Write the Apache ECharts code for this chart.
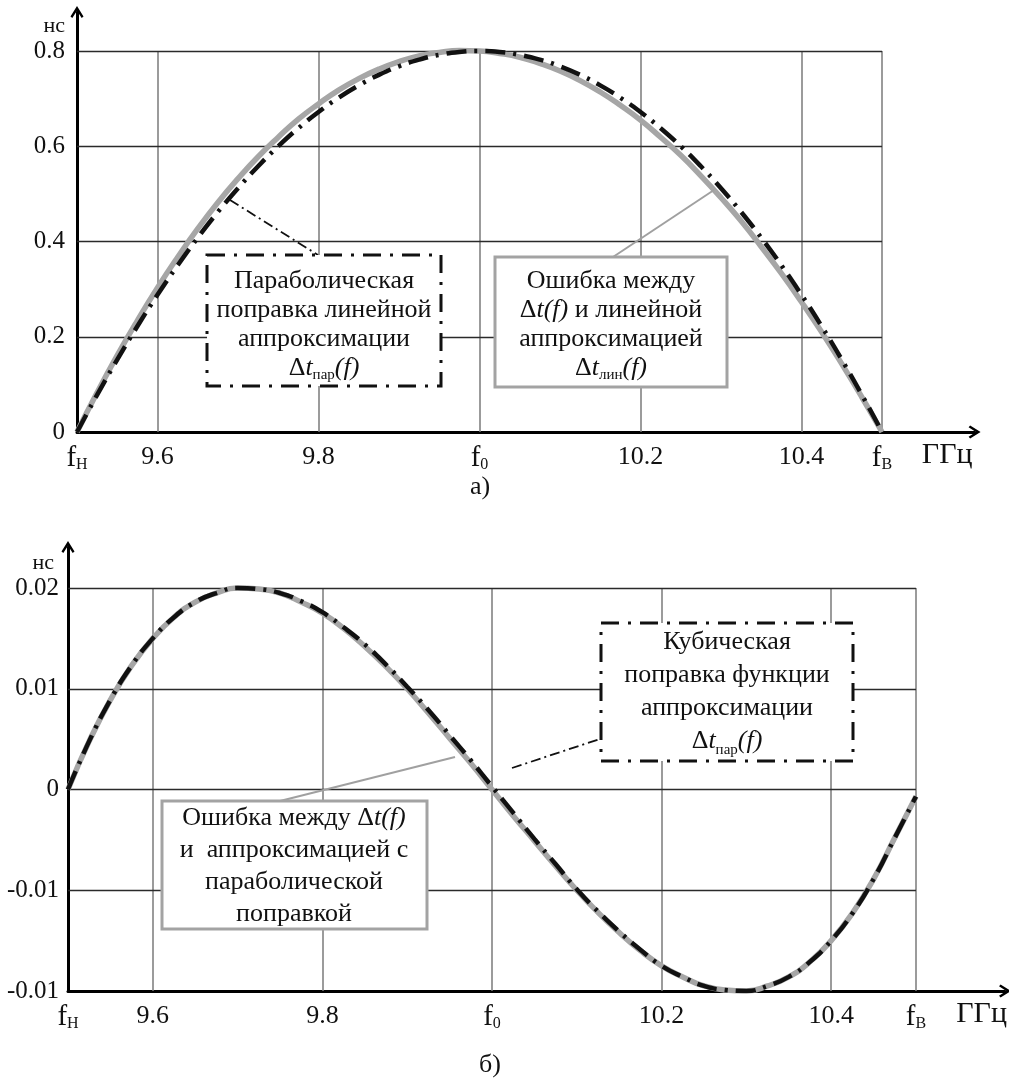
<!DOCTYPE html>
<html><head><meta charset="utf-8">
<script src="https://cdn.jsdelivr.net/npm/echarts@6/dist/echarts.min.js"></script>
<style>html,body{margin:0;padding:0;background:#fff}#c{width:1009px;height:1086px}</style>
</head><body><div id="c"></div>
<script>
// ---------- data ----------
const freq = [9.500, 9.525, 9.550, 9.575, 9.600, 9.625, 9.650, 9.675, 9.700, 9.725,
  9.750, 9.775, 9.800, 9.825, 9.850, 9.875, 9.900, 9.925, 9.950, 9.975,
  10.000, 10.025, 10.050, 10.075, 10.100, 10.125, 10.150, 10.175, 10.200, 10.225,
  10.250, 10.275, 10.300, 10.325, 10.350, 10.375, 10.400, 10.425, 10.450, 10.475, 10.500];

// (a) parabolic correction of the linear approximation, ns
const topParabolic = [0, 0.078, 0.152, 0.222, 0.288, 0.350, 0.408, 0.462, 0.512, 0.558,
  0.600, 0.638, 0.672, 0.702, 0.728, 0.750, 0.768, 0.782, 0.792, 0.798,
  0.800, 0.798, 0.792, 0.782, 0.768, 0.750, 0.728, 0.702, 0.672, 0.638,
  0.600, 0.558, 0.512, 0.462, 0.408, 0.350, 0.288, 0.222, 0.152, 0.078, 0];
// (a) error between Δt(f) and linear approximation, ns
const topError = [0, 0.083, 0.161, 0.234, 0.303, 0.367, 0.427, 0.482, 0.532, 0.578,
  0.619, 0.657, 0.689, 0.718, 0.742, 0.762, 0.778, 0.790, 0.797, 0.801,
  0.800, 0.795, 0.787, 0.774, 0.758, 0.738, 0.714, 0.686, 0.655, 0.619,
  0.581, 0.538, 0.492, 0.443, 0.389, 0.333, 0.273, 0.210, 0.143, 0.073, 0];

// (б) error after parabolic correction, ns
const botError = [0, 0.0048, 0.0089, 0.0123, 0.0150, 0.0171, 0.0186, 0.0195, 0.0200, 0.0199,
  0.0195, 0.0186, 0.0175, 0.0160, 0.0142, 0.0122, 0.0100, 0.0076, 0.0051, 0.0026,
  0, -0.0026, -0.0051, -0.0076, -0.0100, -0.0122, -0.0142, -0.0160, -0.0175, -0.0186,
  -0.0195, -0.0199, -0.0200, -0.0195, -0.0186, -0.0171, -0.0150, -0.0123, -0.0089, -0.0048, -0.0007];
// (б) cubic correction, ns
const botCubic = [0, 0.0048, 0.0089, 0.0123, 0.0150, 0.0171, 0.0186, 0.0195, 0.0200, 0.0199,
  0.0195, 0.0187, 0.0176, 0.0161, 0.0144, 0.0124, 0.0102, 0.0079, 0.0054, 0.0029,
  0.0003, -0.0023, -0.0049, -0.0074, -0.0099, -0.0121, -0.0141, -0.0159, -0.0175, -0.0186,
  -0.0195, -0.0199, -0.0200, -0.0195, -0.0186, -0.0171, -0.0150, -0.0123, -0.0089, -0.0048, -0.0007];

// tick labels
const xTickVals = [9.5, 9.6, 9.8, 10.0, 10.2, 10.4, 10.5];
const xTickTexts = ['{f|f}{s|Н}', '{n|9.6}', '{n|9.8}', '{f|f}{s|0}', '{n|10.2}', '{n|10.4}', '{f|f}{s|В}'];
const xUnit = 'ГГц';
const yUnit = 'нс';
const yTopVals = [0, 0.2, 0.4, 0.6, 0.8];
const yTopTexts = ['0', '0.2', '0.4', '0.6', '0.8'];
const yBotVals = [-0.02, -0.01, 0, 0.01, 0.02];
const yBotTexts = ['-0.01', '-0.01', '0', '0.01', '0.02'];
// grid line positions
const vGrid = [9.6, 9.8, 10.0, 10.2, 10.4, 10.5];
const hGridTop = [0.2, 0.4, 0.6, 0.8];
const hGridBot = [-0.01, 0, 0.01, 0.02];

// ---------- chart ----------
const SERIF = '"Liberation Serif","Times New Roman",serif';
const INK = '#111';
const chart = echarts.init(document.getElementById('c'));

function lookup(vals, texts) {
  return function (v) {
    for (let i = 0; i < vals.length; i++) if (Math.abs(v - vals[i]) < 1e-6) return texts[i];
    return '';
  };
}
function pairs(xs, ys) { return xs.map((x, i) => [x, ys[i]]); }
function gridMark(hs, y0, y1) {
  const d = [];
  vGrid.forEach(x => d.push([{ coord: [x, y0], lineStyle: { color: '#7a7a7a', width: 1.5, type: 'solid' } }, { coord: [x, y1] }]));
  hs.forEach(y => d.push([{ coord: [9.5, y], lineStyle: { color: '#2a2a2a', width: 1.3, type: 'solid' } }, { coord: [10.5, y] }]));
  return { silent: true, symbol: ['none', 'none'], label: { show: false }, animation: false, z: 1, data: d };
}
const arrowPath = 'path://M5,0 L10,8 L8.6,9.2 L5,3.6 L1.4,9.2 L0,8 Z';
const xRich = {
  n: { fontFamily: SERIF, fontSize: 26, color: INK },
  f: { fontFamily: SERIF, fontSize: 29, color: INK },
  s: { fontFamily: SERIF, fontSize: 16, color: INK, verticalAlign: 'bottom', lineHeight: 15 }
};
function xAxisCfg(idx, max, nameGap) {
  return {
    gridIndex: idx, type: 'value', min: 9.5, max: max, interval: 0.1,
    axisLine: { show: true, onZero: false, lineStyle: { color: '#000', width: 3 }, symbol: ['none', arrowPath], symbolSize: [14, 12] },
    axisTick: { show: false }, splitLine: { show: false },
    axisLabel: { margin: 12, formatter: lookup(xTickVals, xTickTexts), rich: xRich },
    name: xUnit, nameLocation: 'end', nameGap: nameGap,
    nameTextStyle: { fontFamily: SERIF, fontSize: 30, color: INK, align: 'right', verticalAlign: 'top', padding: [8, 0, 0, 0] }
  };
}
function yAxisCfg(idx, min, max, interval, vals, texts, margin, nameGap, padR) {
  return {
    gridIndex: idx, type: 'value', min: min, max: max, interval: interval,
    axisLine: { show: true, onZero: false, lineStyle: { color: '#000', width: 3 }, symbol: ['none', arrowPath], symbolSize: [14, 12] },
    axisTick: { show: false }, splitLine: { show: false },
    axisLabel: { margin: margin, fontFamily: SERIF, fontSize: 25, color: INK, formatter: lookup(vals, texts) },
    name: yUnit, nameLocation: 'end', nameGap: nameGap,
    nameTextStyle: { fontFamily: SERIF, fontSize: 22, color: INK, align: 'right', verticalAlign: 'middle', padding: [0, padR, 0, 0] }
  };
}
function boxRich(lh) {
  return {
    n: { fontFamily: SERIF, fontSize: 26, fill: INK, lineHeight: lh },
    i: { fontFamily: SERIF, fontSize: 26, fontStyle: 'italic', fill: INK, lineHeight: lh },
    s: { fontFamily: SERIF, fontSize: 15, fill: INK, lineHeight: 16, verticalAlign: 'bottom' }
  };
}
const DASHDOT = [18, 9, 3, 9];
function box(x, y, w, h, dashed) {
  return { type: 'rect', z: 60, shape: { x: x, y: y, width: w, height: h },
    style: dashed ? { fill: '#fff', stroke: INK, lineWidth: 3, lineDash: DASHDOT }
                  : { fill: '#fff', stroke: '#a3a3a3', lineWidth: 3 } };
}
function boxText(cx, top, lh, txt) {
  return { type: 'text', z: 61, x: cx, y: top,
    style: { text: txt, rich: boxRich(lh), align: 'center', verticalAlign: 'top', fontFamily: SERIF, fontSize: 26, fill: INK, lineHeight: lh } };
}
function pointer(x1, y1, x2, y2, dashed) {
  return { type: 'line', z: 55, shape: { x1: x1, y1: y1, x2: x2, y2: y2 },
    style: dashed ? { stroke: INK, lineWidth: 1.8, lineDash: [10, 4, 2, 4] } : { stroke: '#a0a0a0', lineWidth: 2 } };
}

const grayStyle = { color: '#a6a6a6', width: 5.5 };
const blackStyle = { color: INK, width: 4.5, type: [20, 8, 3, 8] };

chart.setOption({
  animation: false,
  backgroundColor: '#fff',
  grid: [
    { left: 77, top: 12, width: 897.6, height: 420 },
    { left: 68, top: 547, width: 937, height: 444 }
  ],
  xAxis: [xAxisCfg(0, 10.615, -2), xAxisCfg(1, 10.605, 2)],
  yAxis: [
    yAxisCfg(0, 0, 0.882, 0.2, yTopVals, yTopTexts, 12, -14, 12),
    yAxisCfg(1, -0.02, 0.02407, 0.01, yBotVals, yBotTexts, 9, -16, 14)
  ],
  series: [
    { type: 'line', xAxisIndex: 0, yAxisIndex: 0, z: 10, data: pairs(freq, topError), showSymbol: false, smooth: true, lineStyle: grayStyle, markLine: gridMark(hGridTop, 0, 0.8) },
    { type: 'line', xAxisIndex: 0, yAxisIndex: 0, z: 11, data: pairs(freq, topParabolic), showSymbol: false, smooth: true, lineStyle: blackStyle },
    { type: 'line', xAxisIndex: 1, yAxisIndex: 1, z: 10, data: pairs(freq, botError), showSymbol: false, smooth: true, lineStyle: grayStyle, markLine: gridMark(hGridBot, -0.02, 0.02) },
    { type: 'line', xAxisIndex: 1, yAxisIndex: 1, z: 11, data: pairs(freq, botCubic), showSymbol: false, smooth: true, lineStyle: blackStyle }
  ],
  graphic: [
    pointer(230, 200, 318, 255, true),
    box(207, 255, 234, 131, true),
    boxText(324, 267, 29, '{n|Параболическая}\n{n|поправка линейной}\n{n|аппроксимации}\n{n|Δ}{i|t}{s|пар}{i|(f)}'),
    pointer(714, 190, 613, 257, false),
    box(495, 257, 232, 130, false),
    boxText(611, 267, 29, '{n|Ошибка между}\n{n|Δ}{i|t(f)}{n| и линейной}\n{n|аппроксимацией}\n{n|Δ}{i|t}{s|лин}{i|(f)}'),
    pointer(512, 768, 603, 738, true),
    box(601, 623, 252, 138, true),
    boxText(727, 626, 33, '{n|Кубическая}\n{n|поправка функции}\n{n|аппроксимации}\n{n|Δ}{i|t}{s|пар}{i|(f)}'),
    pointer(455, 757, 280, 801, false),
    box(162, 801, 265, 128, false),
    boxText(294, 802, 32, '{n|Ошибка между Δ}{i|t(f)}\n{n|и  аппроксимацией с}\n{n|параболической}\n{n|поправкой}'),
    { type: 'text', z: 61, x: 480, y: 487, style: { text: 'а)', align: 'center', verticalAlign: 'middle', fontFamily: SERIF, fontSize: 26, fill: INK } },
    { type: 'text', z: 61, x: 490, y: 1065, style: { text: 'б)', align: 'center', verticalAlign: 'middle', fontFamily: SERIF, fontSize: 26, fill: INK } }
  ]
});
</script>
</body></html>
